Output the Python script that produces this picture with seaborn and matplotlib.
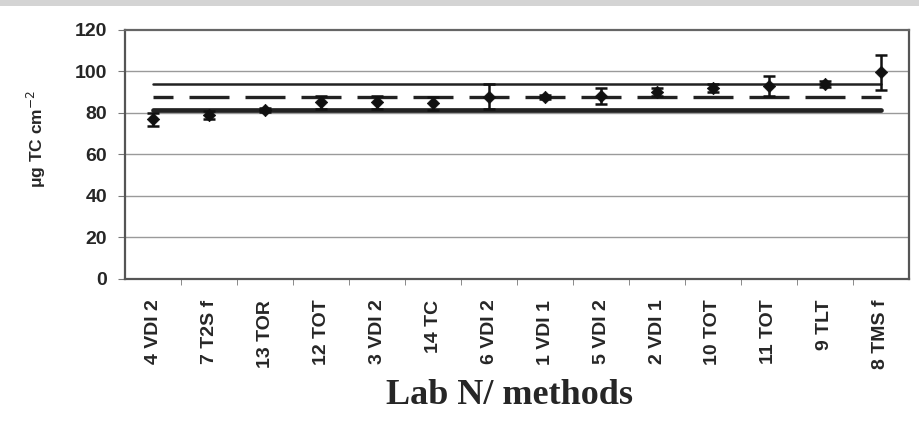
import matplotlib
matplotlib.use("Agg")
import matplotlib.pyplot as plt
import matplotlib.patches as mpatches
import seaborn as sns
import pandas as pd

labs = ["4 VDI 2", "7 T2S f", "13 TOR", "12 TOT", "3 VDI 2", "14 TC", "6 VDI 2",
        "1 VDI 1", "5 VDI 2", "2 VDI 1", "10 TOT", "11 TOT", "9 TLT", "8 TMS f"]
tc_mean = [76.8, 78.8, 81.2, 85, 85, 84.5, 87.7, 87.7, 88, 90, 91.8, 92.9, 93.7, 99.5]
tc_sd = [3, 2, 1, 3, 3, 3, 6, 1, 4, 2, 2, 4.8, 1.5, 8.5]
upper_limit = [93.7] * len(labs)
ref_value = [87.6] * len(labs)
lower_limit = [81.4] * len(labs)
yticks = [0, 20, 40, 60, 80, 100, 120]

df = pd.DataFrame({"lab": labs, "tc": tc_mean, "sd": tc_sd,
                   "up": upper_limit, "ref": ref_value, "low": lower_limit})

sns.set_style("white")
plt.rcParams["font.family"] = ["Liberation Sans", "DejaVu Sans"]

fig = plt.figure(figsize=(9.2, 4.25), dpi=100)
ax = fig.add_axes([0.136, 0.344, 0.852, 0.586])

# faint noisy band at the very top of the image
fig.patches.append(mpatches.Rectangle((0, 0.986), 1, 0.014, transform=fig.transFigure,
                                      facecolor="#d4d4d4", edgecolor="none"))

x = list(range(len(labs)))
ax.set_xlim(-0.5, len(labs) - 0.5)
ax.set_ylim(0, 120)
for v in [20, 40, 60, 80, 100]:
    ax.axhline(v, color="#9a9a9a", lw=1.0, zorder=0)

sns.lineplot(x=x, y=df["up"], ax=ax, color="#222222", lw=1.8, zorder=2)
sns.lineplot(x=x, y=df["low"], ax=ax, color="#222222", lw=3.4, zorder=2)
sns.lineplot(x=x, y=df["ref"], ax=ax, color="#222222", lw=2.4, zorder=2)
dl = ax.lines[-1]
# dash ~40px, gap ~16px, centered on categories (units scaled by linewidth)
px2lw = 72 / 100 / 2.4
dl.set_linestyle((20 * px2lw, (40 * px2lw, 16 * px2lw)))

ax.errorbar(x, df["tc"], yerr=df["sd"], fmt="none", ecolor="#111111",
            elinewidth=1.8, capsize=4, capthick=1.8, zorder=3)
sns.scatterplot(x=x, y=df["tc"], ax=ax, marker="D", s=40, color="#111111",
                edgecolor="#111111", zorder=4)

ax.set_xticks(x)
ax.set_xticklabels(labs, rotation=90, fontsize=14, fontweight="bold")
ax.set_xticks([i + 0.5 for i in range(len(labs) - 1)], minor=True)
ax.tick_params(axis="x", which="major", length=0, pad=15)
ax.tick_params(axis="x", which="minor", length=4, color="#777777", direction="out")
ax.set_yticks(yticks)
ax.set_yticklabels([str(v) for v in yticks], fontsize=14, fontweight="bold")
ax.tick_params(axis="y", length=5, color="#777777", direction="out", pad=8)
ax.xaxis.set_ticks_position("bottom")
ax.yaxis.set_ticks_position("left")

for s in ax.spines.values():
    s.set_color("#555555")
    s.set_linewidth(1.6)
ax.spines["top"].set_color("#666666")

ax.set_ylabel("")
ax.set_xlabel("")
fig.text(0.040, 0.673, "μg TC cm$^{-2}$", rotation=90, ha="center", va="center",
         fontsize=12.5, fontweight="bold")
fig.text(0.554, 0.07, "Lab N/ methods", ha="center", va="center",
         fontsize=26, fontweight="bold", family=["Liberation Serif", "DejaVu Serif"])

fig.savefig("out.png", dpi=100)
